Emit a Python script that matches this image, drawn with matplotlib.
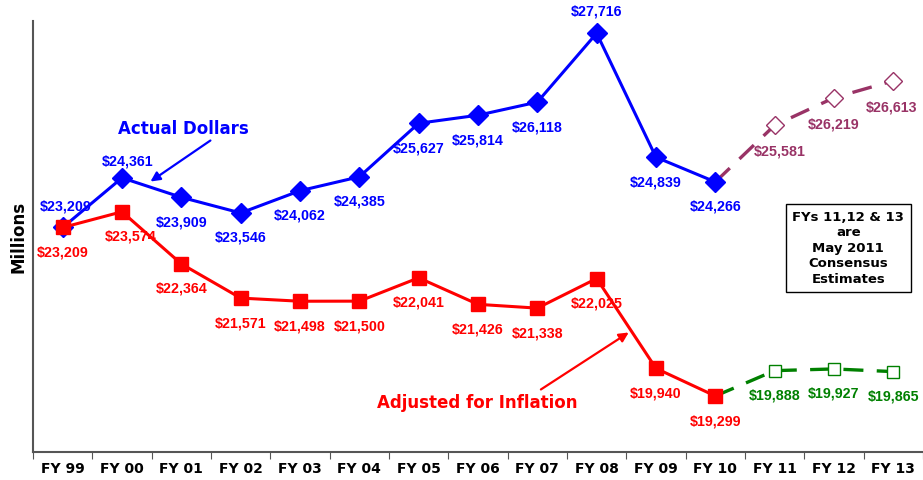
import numpy as np
import matplotlib
matplotlib.use("Agg")
import matplotlib.pyplot as plt

# fiscal years on the x axis
years = ['FY 99', 'FY 00', 'FY 01', 'FY 02', 'FY 03', 'FY 04', 'FY 05', 'FY 06',
         'FY 07', 'FY 08', 'FY 09', 'FY 10', 'FY 11', 'FY 12', 'FY 13']

# actual dollars (millions), FY99-FY10
actual = [23209, 24361, 23909, 23546, 24062, 24385, 25627, 25814, 26118, 27716, 24839, 24266]
# consensus estimates, FY10 (joining point) + FY11-13
actual_est = [24266, 25581, 26219, 26613]

# adjusted for inflation, FY99-FY10
adjusted = [23209, 23574, 22364, 21571, 21498, 21500, 22041, 21426, 21338, 22025, 19940, 19299]
adjusted_est = [19299, 19888, 19927, 19865]

blue = '#0000FF'
red = '#FF0000'
purple = '#993366'
green = '#008000'

x = np.arange(len(years))
x_act = x[:len(actual)]
x_est = x[len(actual) - 1:]

fig = plt.figure(figsize=(9.23, 4.8), dpi=100)
ax = fig.add_axes([33/923, 28/480, 890/923, 431/480])

lab_font = dict(family='Liberation Sans', weight='bold', fontsize=10.3)

# blue actual dollars
ax.plot(x_act, actual, color=blue, lw=2.2, marker='D', ms=10, zorder=3)
ax.plot(x_est, actual_est, color=purple, lw=2.4, dashes=(6, 4), zorder=2)
ax.plot(x_est[1:], actual_est[1:], ls='none', marker='D', ms=9, mfc='white',
        mec=purple, mew=1, zorder=4)

# red adjusted
ax.plot(x_act, adjusted, color=red, lw=2.2, marker='s', ms=9.5, zorder=3)
ax.plot(x_est, adjusted_est, color=green, lw=2.4, dashes=(6, 4), zorder=2)
ax.plot(x_est[1:], adjusted_est[1:], ls='none', marker='s', ms=8.5, mfc='white',
        mec=green, mew=1, zorder=4)

# data labels
above = {0: (2, 15), 1: (4, 12), 9: (0, 16)}
for i, v in enumerate(actual):
    off = above.get(i, (0, -18))
    ax.annotate('$' + format(v, ','), (x_act[i], v), xytext=off, textcoords='offset points',
                ha='center', va='center', color=blue, annotation_clip=False, **lab_font)
for i, v in enumerate(adjusted):
    off = (6, -18) if i == 1 else (0, -18)
    ax.annotate('$' + format(v, ','), (x_act[i], v), xytext=off, textcoords='offset points',
                ha='center', va='center', color=red, **lab_font)
est_dx = [4, 0, -1]
for i, v in enumerate(actual_est[1:]):
    ax.annotate('$' + format(v, ','), (x_est[i + 1], v), xytext=(est_dx[i], -19),
                textcoords='offset points', ha='center', va='center', color=purple, **lab_font)
for i, v in enumerate(adjusted_est[1:]):
    ax.annotate('$' + format(v, ','), (x_est[i + 1], v), xytext=(0, -18), textcoords='offset points',
                ha='center', va='center', color=green, **lab_font)

# callouts
ax.text(2.04, 25483, 'Actual Dollars', color=blue, fontsize=12, fontweight='bold',
        ha='center', va='center')
ax.annotate('', xy=(1.48, 24276), xytext=(2.49, 25227),
            arrowprops=dict(arrowstyle='-|>', color=blue, lw=1.6, mutation_scale=14,
                            shrinkA=0, shrinkB=0))
ax.text(6.98, 19126, 'Adjusted for Inflation', color=red, fontsize=12, fontweight='bold',
        ha='center', va='center')
ax.annotate('', xy=(9.54, 20773), xytext=(8.06, 19451),
            arrowprops=dict(arrowstyle='-|>', color=red, lw=1.6, mutation_scale=14,
                            shrinkA=0, shrinkB=0))

ax.text(0.916, 0.473, 'FYs 11,12 & 13\nare\nMay 2011\nConsensus\nEstimates',
        transform=ax.transAxes, ha='center', va='center', fontsize=9.5, fontweight='bold',
        linespacing=1.25,
        bbox=dict(boxstyle='square,pad=0.5', fc='white', ec='black', lw=1))

# axes styling
ax.set_xlim(-0.5, len(years) - 0.5)
ax.set_ylim(18000, 28000)
ax.set_xticks(np.arange(-0.5, len(years), 1.0))
ax.set_xticklabels([])
ax.set_xticks(x, minor=True)
ax.set_xticklabels(years, minor=True, fontsize=10, fontweight='bold')
ax.tick_params(axis='x', which='major', direction='out', length=5, color='#555555')
ax.tick_params(axis='x', which='minor', length=0, pad=7)
ax.set_yticks([])
ax.spines['top'].set_visible(False)
ax.spines['right'].set_visible(False)
ax.spines['left'].set_color('#555555')
ax.spines['bottom'].set_color('#555555')
ax.spines['left'].set_linewidth(1.5)
ax.spines['bottom'].set_linewidth(1.5)
ax.set_ylabel('Millions', fontsize=12, fontweight='bold', labelpad=4)

fig.savefig('out.png', dpi=100)
